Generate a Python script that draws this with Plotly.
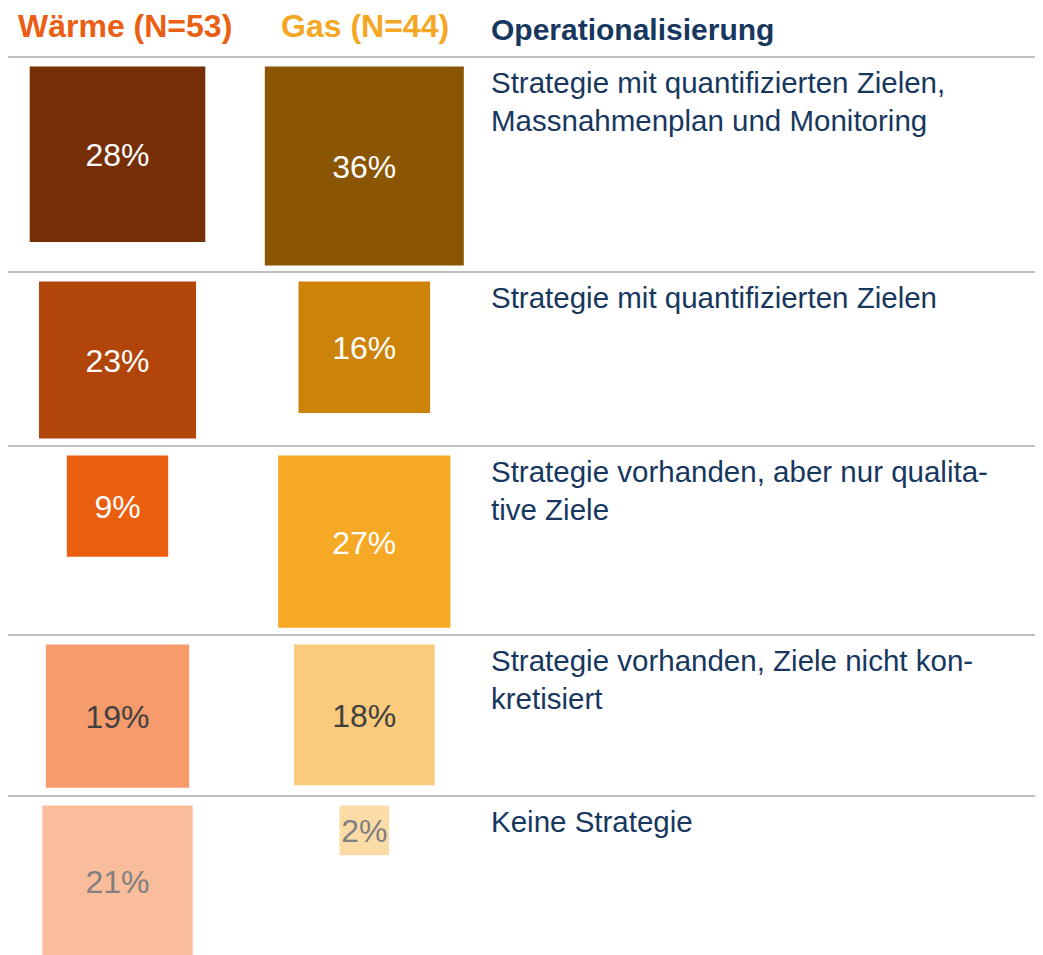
import math
import plotly.graph_objects as go

# ---- data ----
categories = [
    "Strategie mit quantifizierten Zielen,<br>Massnahmenplan und Monitoring",
    "Strategie mit quantifizierten Zielen",
    "Strategie vorhanden, aber nur qualita-<br>tive Ziele",
    "Strategie vorhanden, Ziele nicht kon-<br>kretisiert",
    "Keine Strategie",
]
waerme_counts = [15, 12, 5, 10, 11]
waerme_n = 53
gas_counts = [16, 7, 12, 8, 1]
gas_n = 44
series_names = ["Wärme (N=53)", "Gas (N=44)"]
header_right = "Operationalisierung"

# ---- styles / layout ----
W, H = 1043, 955
OFF = 8  # page body margin compensation
FONT = "Arial, Liberation Sans, sans-serif"
NAVY = "#17375e"
waerme_colors = ["#762e07", "#b1450a", "#e95e0f", "#f69b6b", "#f9bd9c"]
gas_colors = ["#8a5604", "#cd8308", "#f5a924", "#f9cb7b", "#fbdca7"]
label_colors = ["#ffffff", "#ffffff", "#ffffff", "#404040", "#808080"]
col_centers = [117.5, 364.3]
sep_y = [57, 272, 446, 635, 796]
SQ_OFFSET = 9.5
PX_PER_SQRT_PCT = 33.0
LABEL_DY = 4

fig = go.Figure()
shapes = []

for ci, (counts, n, colors) in enumerate(
    [(waerme_counts, waerme_n, waerme_colors), (gas_counts, gas_n, gas_colors)]
):
    pcts = [100.0 * c / n for c in counts]
    for ri, p in enumerate(pcts):
        side = PX_PER_SQRT_PCT * math.sqrt(p)
        cx = col_centers[ci]
        top = sep_y[ri] + SQ_OFFSET
        shapes.append(dict(
            type="rect", xref="x", yref="y",
            x0=cx - side / 2, x1=cx + side / 2, y0=top, y1=top + side,
            fillcolor=colors[ri], line=dict(width=0), layer="below",
        ))
        fig.add_trace(go.Scatter(
            x=[cx], y=[top + side / 2 + LABEL_DY], mode="text", text=[f"{round(p)}%"],
            textposition="middle center",
            textfont=dict(family=FONT, size=32, color=label_colors[ri]),
            showlegend=False, hoverinfo="skip",
        ))

# separator lines
for y in sep_y:
    shapes.append(dict(type="line", xref="x", yref="y", x0=5, x1=W + OFF, y0=y, y1=y,
                       line=dict(color="#bfbfbf", width=2)))

annotations = []
annotations.append(dict(x=124.5, y=26, xref="x", yref="y", text=f"<b>{series_names[0]}</b>",
                        showarrow=False, xanchor="center", yanchor="middle",
                        font=dict(family=FONT, size=32, color="#ea5f13")))
annotations.append(dict(x=365, y=26, xref="x", yref="y", text=f"<b>{series_names[1]}</b>",
                        showarrow=False, xanchor="center", yanchor="middle",
                        font=dict(family=FONT, size=32, color="#f5a623")))
annotations.append(dict(x=489, y=29, xref="x", yref="y", text=f"<b>{header_right}</b>",
                        showarrow=False, xanchor="left", yanchor="middle",
                        font=dict(family=FONT, size=30, color=NAVY)))
for ri, cat in enumerate(categories):
    annotations.append(dict(x=489, y=sep_y[ri] + 7, xref="x", yref="y", text=cat,
                            showarrow=False, xanchor="left", yanchor="top", align="left",
                            font=dict(family=FONT, size=29.5, color=NAVY)))

fig.update_layout(
    width=W, height=H,
    margin=dict(l=0, r=0, t=0, b=0),
    paper_bgcolor="white", plot_bgcolor="white",
    xaxis=dict(range=[OFF, W + OFF], visible=False, fixedrange=True),
    yaxis=dict(range=[H + OFF, OFF], visible=False, fixedrange=True),
    shapes=shapes, annotations=annotations,
    showlegend=False,
)
fig.write_html("out.html")
